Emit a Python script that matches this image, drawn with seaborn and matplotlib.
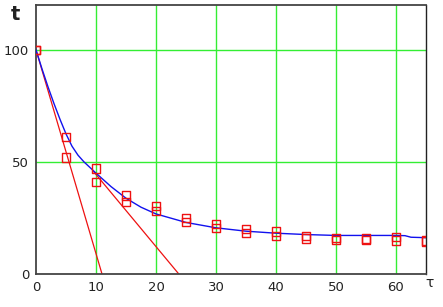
import matplotlib
matplotlib.use("Agg")
import matplotlib.pyplot as plt
import seaborn as sns
import pandas as pd

# measured data (two series of markers)
tau_pts = [0, 5, 10, 15, 20, 25, 30, 35, 40, 45, 50, 55, 60, 65]
t_upper = [100, 61, 47, 35, 30.4, 25.1, 22.3, 20.1, 18.9, 17.1, 16.2, 15.9, 16.5, 14.9]
t_lower = [100, 52, 41, 32, 28.1, 23.3, 20.4, 18.2, 17.0, 15.9, 15.2, 15.2, 14.9, 14.5]

# fitted curve (blue)
tau_fit = [0, 1, 2, 3, 4, 5, 6, 7, 8, 9, 10, 12.5, 15, 17.5, 20, 25, 30, 35, 40, 45, 50, 55, 60, 61.5, 62.5, 65]
t_fit = [100, 91.5, 83.5, 76, 69, 62.5, 57, 53, 50, 47.5, 45, 39, 33.8, 29.8, 26.8, 23, 20.6, 19.1, 18.2, 17.6, 17.2, 17.2, 17.2, 17.1, 16.4, 16.2]

# tangent lines (red)
tan1_tau = [0, 11]
tan1_t = [100, 0]
tan2_tau = [9.6, 23.8]
tan2_t = [45.7, 0]

x_ticks = [0, 10, 20, 30, 40, 50, 60]
y_ticks = [0, 50, 100]

sns.set_style("white")
plt.rcParams['font.family'] = ['DejaVu Sans']

fig = plt.figure(figsize=(4.43, 3.07), dpi=100)
ax = fig.add_axes([36/443, 1-274/307, 390/443, 269/307])

for v in x_ticks[1:]:
    ax.axvline(v, color="#33ee33", lw=1.0, zorder=0)
for v in y_ticks[1:]:
    ax.axhline(v, color="#33ee33", lw=1.0, zorder=0)

sns.lineplot(x=tan1_tau, y=tan1_t, ax=ax, color="#ee1111", lw=0.9, zorder=2)
sns.lineplot(x=tan2_tau, y=tan2_t, ax=ax, color="#ee1111", lw=0.9, zorder=2)
sns.lineplot(x=tau_fit, y=t_fit, ax=ax, color="#1111ee", lw=1.0, zorder=3)

df = pd.DataFrame({"tau": tau_pts * 2, "t": t_upper + t_lower})
sns.scatterplot(data=df, x="tau", y="t", ax=ax, marker="s", s=36,
                facecolors="none", edgecolor="#ee1111", linewidth=1.0, zorder=4)

ax.set_xlim(0, 65)
ax.set_ylim(0, 120)
ax.set_xticks(x_ticks)
ax.set_yticks(y_ticks)
ax.tick_params(length=0, labelsize=9.5, pad=5, colors="#222222")
ax.set_xlabel("")
ax.set_ylabel("")
for s in ax.spines.values():
    s.set_color("#444444")
    s.set_linewidth(1.3)
ax.spines["right"].set_color("#222222")
ax.spines["right"].set_linewidth(1.0)

fig.text(15/443, 1-14/307, "t", fontsize=14, fontweight="bold", ha="center", va="center", color="#222222")
fig.text(429/443, 1-283/307, "τ", fontsize=10, ha="center", va="center", color="#222222")

fig.savefig("out.png", dpi=100)
